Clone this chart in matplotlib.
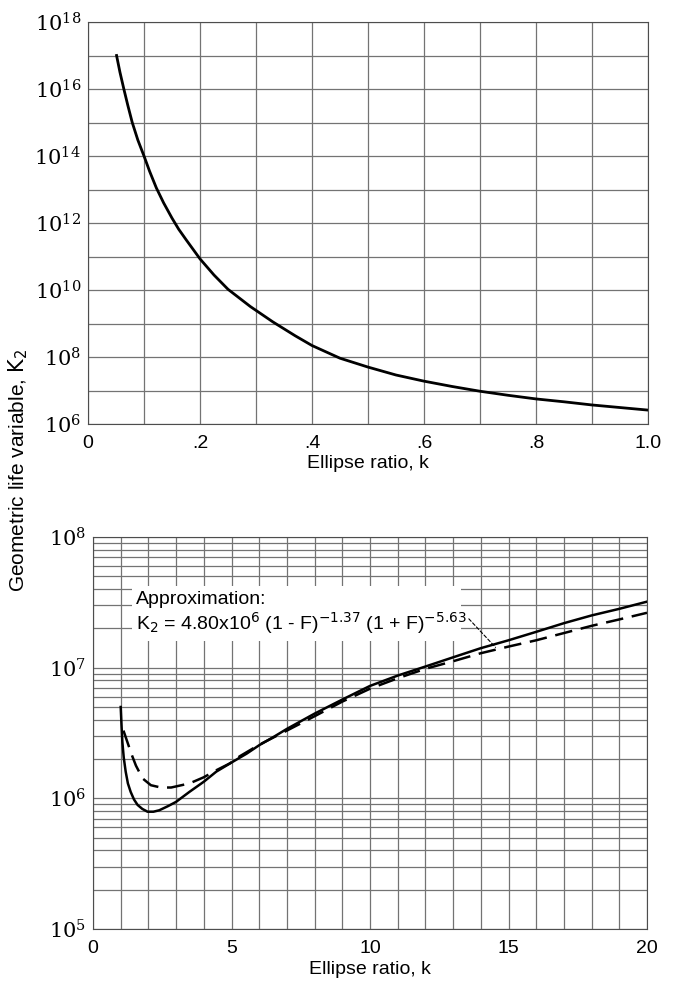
import numpy as np
import matplotlib
matplotlib.use("Agg")
import matplotlib.pyplot as plt
from matplotlib.ticker import FixedLocator, FixedFormatter, NullFormatter, LogLocator
from matplotlib.patches import Rectangle

# 글꼴 설정
plt.rcParams['font.family'] = ['Liberation Sans', 'DejaVu Sans']
plt.rcParams['mathtext.fontset'] = 'dejavuserif'

# ---- 위 그래프 : k 0 ~ 1 ----
k_top  = [0.051, 0.057, 0.064, 0.071, 0.079, 0.089, 0.1, 0.11, 0.122, 0.135, 0.15,
          0.162, 0.175, 0.2, 0.225, 0.25, 0.29, 0.33, 0.37, 0.4, 0.45, 0.5, 0.55,
          0.6, 0.65, 0.7, 0.75, 0.8, 0.85, 0.9, 0.95, 1.0]
K2_top = [1e17, 3.2e16, 1e16, 3.3e15, 1e15, 3.0e14, 1e14, 3.5e13, 1.12e13, 4.0e12, 1.4e12,
          6.5e11, 3.2e11, 8.5e10, 2.8e10, 1.05e10, 3.2e9, 1.12e9, 4.3e8, 2.2e8, 9.2e7, 5.0e7, 2.9e7,
          1.9e7, 1.32e7, 9.5e6, 7.2e6, 5.6e6, 4.6e6, 3.7e6, 3.1e6, 2.6e6]

# ---- 아래 그래프 : k 0 ~ 20 ----
k_exact  = [1.0, 1.03, 1.06, 1.11, 1.18, 1.26, 1.36, 1.48, 1.61, 1.78, 1.97, 2.18,
            2.39, 2.7, 3.0, 3.48, 4.0, 4.45, 5.0, 5.55, 6.0, 6.52, 7.0, 8.0, 9.0,
            10.0, 11.0, 12.0, 13.0, 14.0, 15.0, 16.0, 17.0, 18.0, 19.0, 20.0]
K2_exact = [5.0e6, 3.6e6, 2.7e6, 2.05e6, 1.6e6, 1.3e6, 1.12e6, 9.8e5, 8.9e5, 8.3e5, 7.9e5, 7.9e5,
            8.1e5, 8.7e5, 9.4e5, 1.12e6, 1.34e6, 1.6e6, 1.88e6, 2.2e6, 2.55e6, 2.95e6, 3.4e6,
            4.45e6, 5.7e6, 7.25e6, 8.7e6, 1.02e7, 1.2e7, 1.41e7, 1.62e7, 1.88e7, 2.19e7,
            2.51e7, 2.82e7, 3.2e7]

k_approx  = [1.1, 1.24, 1.4, 1.55, 1.79, 2.09, 2.45, 2.82, 3.48, 4.0, 4.45, 4.94,
             5.3, 6.0, 7.0, 8.0, 9.0, 10.0, 11.0, 12.0, 13.0, 14.0, 15.0, 16.0,
             17.0, 18.0, 19.0, 20.0]
K2_approx = [3.3e6, 2.7e6, 2.15e6, 1.78e6, 1.42e6, 1.26e6, 1.21e6, 1.21e6, 1.3e6, 1.45e6,
             1.64e6, 1.85e6, 2.1e6, 2.57e6, 3.3e6, 4.25e6, 5.5e6, 6.9e6, 8.3e6, 9.8e6,
             1.12e7, 1.29e7, 1.45e7, 1.62e7, 1.84e7, 2.09e7, 2.34e7, 2.63e7]

grid_color = "0.45"

fig = plt.figure(figsize=(6.79, 9.83), dpi=100)

# ================== 위 그래프 ==================
ax1 = fig.add_axes([88/679, 1-424/983, 560/679, 402/983])
ax1.plot(k_top, K2_top, color="black", linewidth=2.0)
ax1.set_yscale("log")
ax1.set_xlim(0, 1.0)
ax1.set_ylim(1e6, 1e18)

ax1.xaxis.set_major_locator(FixedLocator([0, 0.2, 0.4, 0.6, 0.8, 1.0]))
ax1.xaxis.set_major_formatter(FixedFormatter(["0", ".2", ".4", ".6", ".8", "1.0"]))
ax1.xaxis.set_minor_locator(FixedLocator(np.arange(0.1, 1.0, 0.2)))
decades = [10.0**e for e in range(6, 19)]
ax1.yaxis.set_major_locator(FixedLocator(decades))
ax1.yaxis.set_major_formatter(FixedFormatter(
    [r"$10^{%d}$" % e if e % 2 == 0 else "" for e in range(6, 19)]))
ax1.yaxis.set_minor_locator(FixedLocator([]))
ax1.yaxis.set_minor_formatter(NullFormatter())

ax1.grid(True, which="both", color=grid_color, linewidth=0.9)
ax1.tick_params(which="both", length=0, labelsize=15)
ax1.tick_params(axis="x", pad=8, labelsize=14)
ax1.tick_params(axis="y", pad=5)
ax1.set_xlabel("Ellipse ratio, k", fontsize=14, labelpad=2)
for s in ax1.spines.values():
    s.set_color("0.3")

# ================== 아래 그래프 ==================
ax2 = fig.add_axes([93/679, 1-929/983, 554/679, 392/983])
ax2.plot(k_exact, K2_exact, color="black", linewidth=1.8, zorder=4)
ax2.plot(k_approx, K2_approx, color="black", linewidth=1.8,
         dashes=(7, 3.5), zorder=4)
ax2.set_yscale("log")
ax2.set_xlim(0, 20)
ax2.set_ylim(1e5, 1e8)

ax2.xaxis.set_major_locator(FixedLocator([0, 5, 10, 15, 20]))
ax2.xaxis.set_minor_locator(FixedLocator(range(0, 21)))
ax2.yaxis.set_major_locator(FixedLocator([1e5, 1e6, 1e7, 1e8]))
ax2.yaxis.set_major_formatter(FixedFormatter([r"$10^{%d}$" % e for e in range(5, 9)]))
ax2.yaxis.set_minor_locator(LogLocator(base=10, subs=np.arange(2, 10)))
ax2.yaxis.set_minor_formatter(NullFormatter())

ax2.grid(True, which="both", color=grid_color, linewidth=0.9)
ax2.tick_params(which="both", length=0, labelsize=15)
ax2.tick_params(axis="x", pad=8, labelsize=14)
ax2.tick_params(axis="y", pad=5)
ax2.set_xlabel("Ellipse ratio, k", fontsize=14, labelpad=3)
for s in ax2.spines.values():
    s.set_color("0.3")

# 근사식 글상자 (격자선을 가림)
ax2.add_patch(Rectangle((1.4, 1.6e7), 11.9, 4.2e7 - 1.6e7, facecolor="white",
                        edgecolor="none", zorder=3))
ax2.text(1.55, 3.35e7, "Approximation:", fontsize=14, zorder=5, va="center")
ax2.text(1.55, 2.2e7,
         r"K$_\mathsf{2}$ = 4.80x10$^\mathsf{6}$ (1 - F)$^\mathsf{-1.37}$ (1 + F)$^\mathsf{-5.63}$",
         fontsize=14, zorder=5, va="center")
ax2.annotate("", xy=(14.6, 1.38e7), xytext=(13.5, 2.45e7),
             arrowprops=dict(arrowstyle="-", color="black", linewidth=0.8,
                             linestyle=(0, (3, 2))), zorder=5)

# 공통 y축 이름
fig.text(18/679, 1-470/983, r"Geometric life variable, $\mathsf{K_2}$",
         rotation=90, fontsize=15, ha="center", va="center")

fig.savefig("out.png", dpi=100)
